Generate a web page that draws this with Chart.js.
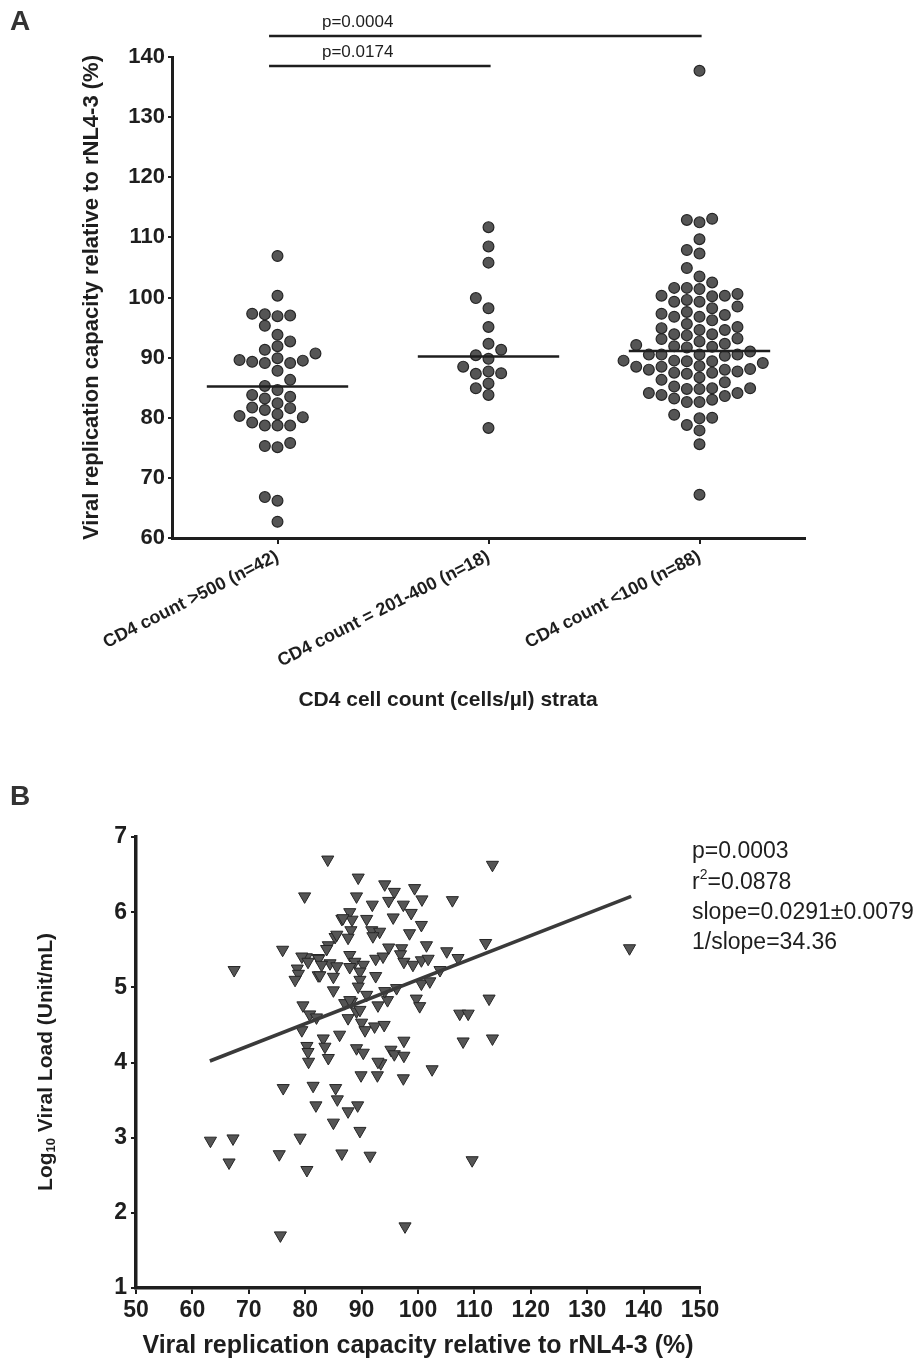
<!DOCTYPE html>
<html>
<head>
<meta charset="utf-8">
<title>VRC by CD4 strata and viral load</title>
<script src="https://cdn.jsdelivr.net/npm/chart.js@4.4.1/dist/chart.umd.min.js"></script>
<style>
    html, body { margin: 0; padding: 0; background: #fff; }
    #wrap { position: relative; width: 920px; height: 1361px; overflow: hidden; }
    canvas { position: absolute; left: 0; }
    #chart-a { top: 0; }
    #chart-b { top: 760px; }
</style>
</head>
<body>
<div id="wrap">
    <canvas id="chart-a" width="920" height="760"></canvas>
    <canvas id="chart-b" width="920" height="601"></canvas>
</div>
<script>
// ---- Panel A data: VRC (%) per CD4 stratum ----
const groupLabels = ['CD4 count >500 (n=42)', 'CD4 count = 201-400 (n=18)', 'CD4 count <100 (n=88)'];
const vrcOver500 = [106.9, 100.3, 97.3, 97.2, 97.0, 96.9, 95.3, 93.8, 92.7, 91.9, 91.3, 90.7, 89.9, 89.6,
    89.5, 89.3, 89.1, 89.1, 87.8, 86.3, 85.3, 84.6, 83.8, 83.5, 83.2, 82.4, 81.7, 81.6, 81.3, 80.6, 80.3,
    80.1, 79.2, 78.7, 78.7, 78.7, 75.8, 75.3, 75.1, 66.8, 66.2, 62.7];
const vrc201to400 = [111.7, 108.5, 105.8, 99.9, 98.2, 95.1, 92.3, 91.3, 90.4, 89.8, 88.5, 87.7, 87.4, 87.3,
    85.7, 84.9, 83.8, 78.3];
const vrcUnder100 = [137.7, 113.1, 112.9, 112.5, 109.7, 107.9, 107.3, 104.9, 103.5, 102.5,
    101.6, 101.6, 101.4, 100.6, 100.3, 100.3, 100.2, 99.6, 99.3, 99.3,
    98.5, 98.2, 97.6, 97.3, 97.1, 96.8, 96.8, 96.2, 95.6, 95.1,
    94.9, 94.6, 94.6, 93.9, 93.9, 93.7, 93.2, 93.1, 92.7, 92.3,
    92.1, 91.9, 91.8, 91.7, 91.0, 90.5, 90.5, 90.5, 90.5, 90.3,
    89.5, 89.5, 89.4, 89.4, 89.1, 88.6, 88.5, 88.5, 88.1, 88.0,
    88.0, 87.7, 87.5, 87.5, 87.3, 86.7, 86.3, 85.9, 85.2, 84.9,
    84.9, 84.8, 84.8, 84.1, 84.1, 83.8, 83.6, 83.2, 83.0, 82.6,
    82.6, 80.5, 80.0, 79.9, 78.8, 77.9, 75.6, 67.2];
const groupMedians = [85.2, 90.2, 91.1];
const pComparisons = [[1, 2], [1, 3]];
const pLabels = ['p=0.0174', 'p=0.0004'];

// ---- Panel B data: VRC (%) vs log10 viral load ----
const vrcB = [79.9, 76.0, 80.2, 82.3, 67.4, 78.6, 78.8, 78.2, 82.3, 79.6, 80.8, 82.0, 79.4, 80.3, 80.5,
    80.6, 76.1, 81.4, 81.9, 63.2, 67.2, 79.1, 66.5, 75.4, 80.3, 75.6,
    84.0, 89.4, 89.1, 94.1, 95.8, 99.4, 100.7, 94.8, 91.9, 97.4,
    98.8, 87.9, 86.5, 88.3, 90.9, 95.6, 100.6, 88.1, 91.8, 93.2,
    92.0, 98.5, 85.3, 87.6, 84.1, 83.8, 94.8, 97.1, 101.5, 82.4,
    84.4, 85.6, 87.9, 88.8, 87.9, 90.3, 89.7, 92.5, 93.8, 96.9,
    97.5, 99.1, 100.6, 101.8, 103.9, 82.6, 85.0, 89.7, 92.5, 85.0,
    89.4, 99.7, 100.3, 100.6, 102.1, 90.9, 87.0, 88.2, 89.1, 92.9,
    94.6, 87.6, 90.0, 90.6, 92.3, 94.0, 86.1, 83.2, 83.5, 84.1,
    89.1, 90.3, 95.2, 95.8, 97.5, 97.5, 93.4, 89.9, 92.8, 97.4,
    102.5, 85.4, 85.7, 87.6, 89.3, 85.0, 89.7, 86.5, 91.5, 97.7,
    113.2, 106.1, 105.1, 107.1, 112.0, 137.5, 112.6, 107.4, 108.9, 108.0, 113.2, 109.6,
    85.6, 86.7, 79.4, 80.5, 82.9, 94.1, 96.2, 92.9, 89.7, 87.9];
const logVLB = [6.21, 5.50, 5.40, 5.39, 5.23, 5.25, 5.18, 5.10, 5.16, 4.76, 4.64, 4.60, 4.43, 4.22, 4.14,
    4.01, 3.66, 3.69, 3.43, 2.96, 2.99, 3.00, 2.67, 2.78, 2.57, 1.70,
    6.70, 6.46, 6.21, 6.37, 6.27, 6.32, 6.17, 6.15, 6.10, 6.10,
    5.99, 6.00, 5.91, 5.90, 5.91, 5.93, 5.83, 5.76, 5.76, 5.74,
    5.68, 5.72, 5.67, 5.66, 5.56, 5.51, 5.53, 5.52, 5.56, 5.38,
    5.32, 5.28, 5.43, 5.34, 5.27, 5.30, 5.21, 5.38, 5.41, 5.44,
    5.34, 5.30, 5.36, 5.38, 5.23, 5.16, 5.14, 5.10, 5.15, 4.96,
    5.01, 4.85, 4.75, 5.05, 5.08, 4.90, 4.79, 4.81, 4.68, 4.76,
    4.83, 4.59, 4.53, 4.43, 4.48, 4.50, 4.37, 4.32, 4.21, 4.06,
    4.19, 4.13, 4.17, 4.11, 4.29, 4.09, 3.99, 3.83, 3.83, 3.79,
    3.91, 3.66, 3.51, 3.35, 3.43, 3.20, 3.09, 2.79, 2.76, 1.82,
    6.63, 6.16, 5.48, 5.39, 5.59, 5.52, 4.85, 4.65, 4.65, 4.28, 4.32, 2.70,
    5.70, 5.92, 5.41, 5.34, 5.30, 4.95, 4.99, 4.01, 4.70, 4.83];
const fitLineX = [63.1, 137.8];
const fitLineY = [4.02, 6.21];
const statLines = ['p=0.0003', 'r2=0.0878', 'slope=0.0291\u00b10.0079', '1/slope=34.36'];

const FONT = "'Liberation Sans', Arial, Helvetica, sans-serif";
const INK = '#1e1e1e';
const DOT = '#555555';

// Simple column beeswarm: each value goes to the first free column 0, -1, +1, -2, ...
function swarm(values, center) {
    const taken = [];
    return values.slice().sort((a, b) => a - b).map(v => {
        let col = 0;
        for (let k = 0; k < 40; k++) {
            col = (k % 2 ? -1 : 1) * Math.ceil(k / 2);
            if (!taken.some(t => t.col === col && Math.abs(t.y - v) < 1.8)) break;
        }
        taken.push({ col, y: v });
        return { x: center + col * 0.06, y: v };
    });
}

function dotSet(values, center) {
    return {
        data: swarm(values, center),
        pointRadius: 5.4,
        pointBackgroundColor: DOT,
        pointBorderColor: '#262626',
        pointBorderWidth: 1.2
    };
}

function segment(x0, x1, y, width) {
    return {
        data: [{ x: x0, y: y }, { x: x1, y: y }],
        showLine: true,
        borderColor: INK,
        borderWidth: width,
        pointRadius: 0,
        clip: false
    };
}

const sigLevels = [138.5, 143.5];

const panelAPlugin = {
    id: 'panelA',
    afterDraw(chart) {
        const { ctx, scales: { x, y } } = chart;
        ctx.save();
        ctx.fillStyle = INK;
        ctx.textAlign = 'center';
        ctx.textBaseline = 'middle';
        ctx.font = `17px ${FONT}`;
        sigLevels.forEach((lvl, i) => {
            ctx.fillText(pLabels[i], x.getPixelForValue(1.38), y.getPixelForValue(lvl) - 14);
        });
        ctx.font = `bold 21px ${FONT}`;
        ctx.fillText('CD4 cell count (cells/\u00b5l) strata', 448, 700);
        ctx.fillStyle = '#333';
        ctx.font = `bold 28px ${FONT}`;
        ctx.fillText('A', 20, 22);
        ctx.restore();
    }
};

const panelBPlugin = {
    id: 'panelB',
    afterDraw(chart) {
        const { ctx } = chart;
        ctx.save();
        ctx.fillStyle = INK;
        ctx.textBaseline = 'middle';
        ctx.textAlign = 'left';

        // regression statistics
        const sx = 692;
        const rows = [92, 123, 153, 183];
        const statFont = `23px ${FONT}`;
        ctx.font = statFont;
        statLines.forEach((line, i) => {
            if (line.startsWith('r2')) {
                ctx.fillText('r', sx, rows[i]);
                const rw = ctx.measureText('r').width;
                ctx.font = `14px ${FONT}`;
                ctx.fillText('2', sx + rw, rows[i] - 8);
                const tw = ctx.measureText('2').width;
                ctx.font = statFont;
                ctx.fillText(line.slice(2), sx + rw + tw, rows[i]);
            } else {
                ctx.fillText(line, sx, rows[i]);
            }
        });

        // y axis title with subscript
        ctx.translate(46, 302);
        ctx.rotate(-Math.PI / 2);
        const big = `bold 21px ${FONT}`, small = `bold 13px ${FONT}`;
        ctx.font = big;
        const w1 = ctx.measureText('Log').width;
        const w3 = ctx.measureText(' Viral Load (Unit/mL)').width;
        ctx.font = small;
        const w2 = ctx.measureText('10').width;
        const cx = -(w1 + w2 + w3) / 2;
        ctx.font = big;
        ctx.fillText('Log', cx, 0);
        ctx.font = small;
        ctx.fillText('10', cx + w1, 5);
        ctx.font = big;
        ctx.fillText(' Viral Load (Unit/mL)', cx + w1 + w2, 0);
        ctx.restore();

        ctx.save();
        ctx.fillStyle = '#333';
        ctx.font = `bold 28px ${FONT}`;
        ctx.textAlign = 'center';
        ctx.textBaseline = 'middle';
        ctx.fillText('B', 20, 37);
        ctx.restore();
    }
};

const tickFont = size => ({ family: FONT, size: size, weight: 'bold' });

// ---- Panel A ----
new Chart(document.getElementById('chart-a').getContext('2d'), {
    type: 'scatter',
    data: {
        datasets: [
            ...groupMedians.map((m, i) => segment(i + 1 - 0.335, i + 1 + 0.335, m, 2.5)),
            ...pComparisons.map((pair, i) => segment(pair[0] - 0.04, pair[1] + 0.01, sigLevels[i], 2.5)),
            dotSet(vrcOver500, 1),
            dotSet(vrc201to400, 2),
            dotSet(vrcUnder100, 3)
        ]
    },
    options: {
        responsive: false,
        animation: false,
        layout: { padding: { top: 57, right: 115, left: 0, bottom: 0 } },
        plugins: { legend: { display: false }, tooltip: { enabled: false } },
        scales: {
            x: {
                type: 'linear',
                min: 0.5,
                max: 3.5,
                afterBuildTicks: axis => { axis.ticks = groupLabels.map((_, i) => ({ value: i + 1 })); },
                afterFit: axis => { axis.height = 222; },
                border: { color: INK, width: 3 },
                grid: { drawOnChartArea: false, tickLength: 6, color: INK, lineWidth: 2 },
                ticks: {
                    autoSkip: false,
                    minRotation: 27,
                    maxRotation: 27,
                    padding: 2,
                    color: INK,
                    font: tickFont(18),
                    callback: v => groupLabels[Math.round(v) - 1] || ''
                }
            },
            y: {
                min: 60,
                max: 140,
                afterFit: axis => { axis.width = 172; },
                border: { color: INK, width: 3 },
                grid: { drawOnChartArea: false, tickLength: 4, color: INK, lineWidth: 2 },
                ticks: { stepSize: 10, padding: 3, color: INK, font: tickFont(22) },
                title: {
                    display: true,
                    text: 'Viral replication capacity relative to rNL4-3 (%)',
                    color: INK,
                    font: { family: FONT, size: 22, weight: 'bold' },
                    padding: { top: 79, bottom: 0 }
                }
            }
        }
    },
    plugins: [panelAPlugin]
});

// ---- Panel B ----
new Chart(document.getElementById('chart-b').getContext('2d'), {
    type: 'scatter',
    data: {
        datasets: [
            {
                data: fitLineX.map((x, i) => ({ x: x, y: fitLineY[i] })),
                showLine: true,
                borderColor: '#3a3a3a',
                borderWidth: 3.5,
                pointRadius: 0
            },
            {
                data: vrcB.map((x, i) => ({ x: x, y: logVLB[i] })),
                pointStyle: 'triangle',
                rotation: 180,
                pointRadius: 7,
                pointBackgroundColor: DOT,
                pointBorderColor: '#262626',
                pointBorderWidth: 1
            }
        ]
    },
    options: {
        responsive: false,
        animation: false,
        layout: { padding: { top: 77, right: 220, left: 0, bottom: 0 } },
        plugins: { legend: { display: false }, tooltip: { enabled: false } },
        scales: {
            x: {
                type: 'linear',
                min: 50,
                max: 150,
                afterFit: axis => { axis.height = 73; },
                border: { color: INK, width: 3.5 },
                grid: { drawOnChartArea: false, tickLength: 6, color: INK, lineWidth: 2 },
                ticks: { stepSize: 10, padding: 3, color: INK, font: tickFont(23), maxRotation: 0 },
                title: {
                    display: true,
                    text: 'Viral replication capacity relative to rNL4-3 (%)',
                    color: INK,
                    font: { family: FONT, size: 25, weight: 'bold' },
                    padding: { top: 0, bottom: 0 }
                }
            },
            y: {
                min: 1,
                max: 7,
                afterFit: axis => { axis.width = 136; },
                border: { color: INK, width: 3.5 },
                grid: { drawOnChartArea: false, tickLength: 5, color: INK, lineWidth: 2 },
                ticks: { stepSize: 1, padding: 4, color: INK, font: tickFont(23) }
            }
        }
    },
    plugins: [panelBPlugin]
});
</script>
</body>
</html>
